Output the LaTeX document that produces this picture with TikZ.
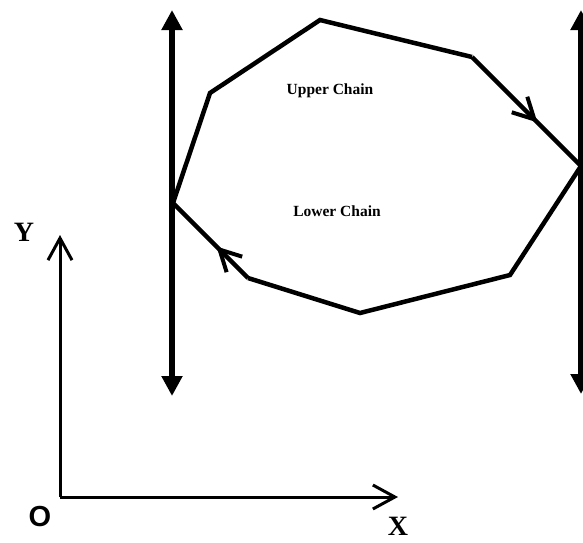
\documentclass[tikz,border=0pt]{standalone}
\usepackage{fontspec}
\setmainfont{Liberation Serif}
\newfontfamily\axsans{Liberation Sans}
\usetikzlibrary{arrows.meta,decorations.markings}
\tikzset{
  chain/.style={line width=4.5pt, line join=miter},
  bound/.style={line width=5.5pt, {Triangle[length=20pt,width=20pt]}-{Triangle[length=20pt,width=20pt]}},
  axis/.style={line width=3pt, -{Straight Barb[length=22pt,width=24pt,line width=3pt]}},
  chainlbl/.style={font=\bfseries\fontsize{15.5}{18}\selectfont},
  axlbl/.style={font=\bfseries\fontsize{28}{32}\selectfont, inner sep=0pt},
  midarrow/.style={postaction={decorate, decoration={markings,
     mark=at position #1 with {\arrow{Straight Barb[length=21pt,width=22pt,line width=4pt]}}}}}
}
\begin{document}
\begin{tikzpicture}[x=1pt,y=-1pt]
\useasboundingbox (0,0) rectangle (583,542);
% polygon vertices
\coordinate (L)  at (173,203);
\coordinate (P1) at (210,93);
\coordinate (P2) at (320,20);
\coordinate (P3) at (472,57);
\coordinate (R)  at (581,166);
\coordinate (Q1) at (510,275);
\coordinate (Q2) at (360,313);
\coordinate (Q3) at (248,278);
% vertical bounds
\coordinate (LT) at (172,10);
\coordinate (LB) at (172,396);
\coordinate (RT) at (581,10);
\coordinate (RB) at (581,394);
\draw[bound] (LB) -- (LT);
\draw[bound] (RB) -- (RT);
% chains
\draw[chain] (L) -- (P1) -- (P2) -- (P3);
\draw[chain, midarrow=0.6] (P3) -- (R);
\draw[chain] (R) -- (Q1) -- (Q2) -- (Q3);
\draw[chain, midarrow=0.42] (Q3) -- (L);
\node[chainlbl] (up) at (330,91) {Upper Chain};
\node[chainlbl] (lo) at (337,211) {Lower Chain};
% axes
\coordinate (O) at (60,497);
\coordinate (Yend) at (60,235);
\coordinate (Xend) at (398,497);
\draw[axis] (O) -- (Yend);
\draw[axis] (O) -- (Xend);
\node[axlbl] (ylbl) at (24,232) {Y};
\node[axlbl, font=\axsans\bfseries\fontsize{29}{32}\selectfont] (olbl) at (40,517) {O};
\node[axlbl] (xlbl) at (398,526) {X};
\end{tikzpicture}
\end{document}
